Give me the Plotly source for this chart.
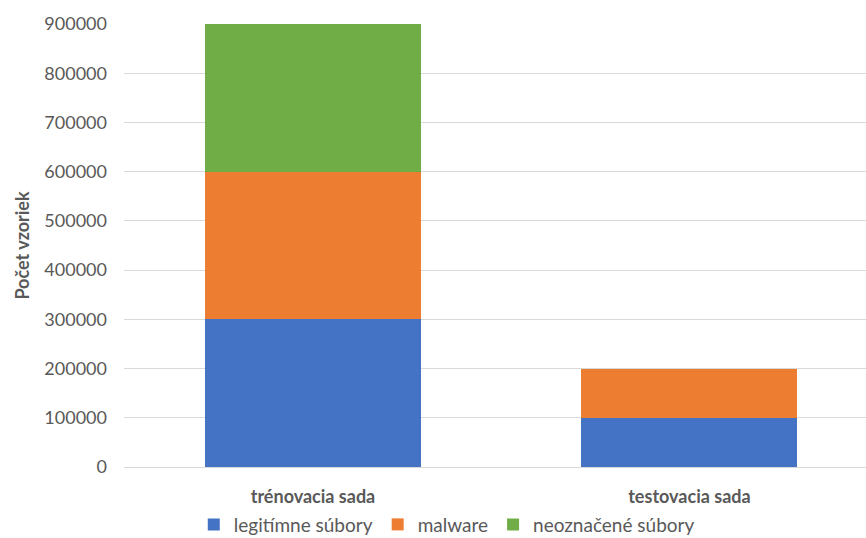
import plotly.graph_objects as go

# Dataset composition per split
categories = ["trénovacia sada", "testovacia sada"]
series_names = ["legitímne súbory", "malware", "neoznačené súbory"]
legit = [300000, 100000]
malware = [300000, 100000]
unlabeled = [300000, 0]
colors = ["#4472C4", "#ED7D31", "#70AD47"]
y_ticks = [0, 100000, 200000, 300000, 400000, 500000, 600000, 700000, 800000, 900000]

FONT = "Lato"
TEXT = "#595959"

fig = go.Figure()
for name, vals, col in zip(series_names, [legit, malware, unlabeled], colors):
    fig.add_trace(go.Bar(
        x=categories, y=vals, name=name,
        marker=dict(color=col, line=dict(width=0)),
        width=0.574,
    ))

fig.update_layout(
    barmode="stack",
    width=866, height=538,
    margin=dict(l=124, r=0, t=24, b=71, autoexpand=False),
    plot_bgcolor="white", paper_bgcolor="white",
    font=dict(family=FONT, color=TEXT, size=18),
    showlegend=True,
    legend=dict(
        orientation="h", x=0.435, xanchor="center",
        y=-0.087, yanchor="top",
        bgcolor="rgba(0,0,0,0)",
        font=dict(family=FONT, size=19, color=TEXT),
        itemwidth=30, traceorder="normal",
    ),
    xaxis=dict(
        range=[-0.502, 1.469],
        showgrid=False, showline=False, zeroline=False,
        automargin=False,
        tickfont=dict(family=FONT, size=18, color=TEXT, weight="bold"),
        ticklabelstandoff=17,
    ),
    yaxis=dict(
        range=[0, 900000],
        automargin=False,
        tickvals=y_ticks, ticktext=[str(v) for v in y_ticks],
        showgrid=True, gridcolor="#D9D9D9", gridwidth=1,
        zeroline=True, zerolinecolor="#D9D9D9", zerolinewidth=1,
        showline=False,
        tickfont=dict(family=FONT, size=18, color=TEXT),
        ticklabelstandoff=16,
        title=dict(text="Počet vzoriek",
                   font=dict(family=FONT, size=18, color=TEXT, weight="bold"),
                   standoff=10),
    ),
)

fig.write_html("out.html")
